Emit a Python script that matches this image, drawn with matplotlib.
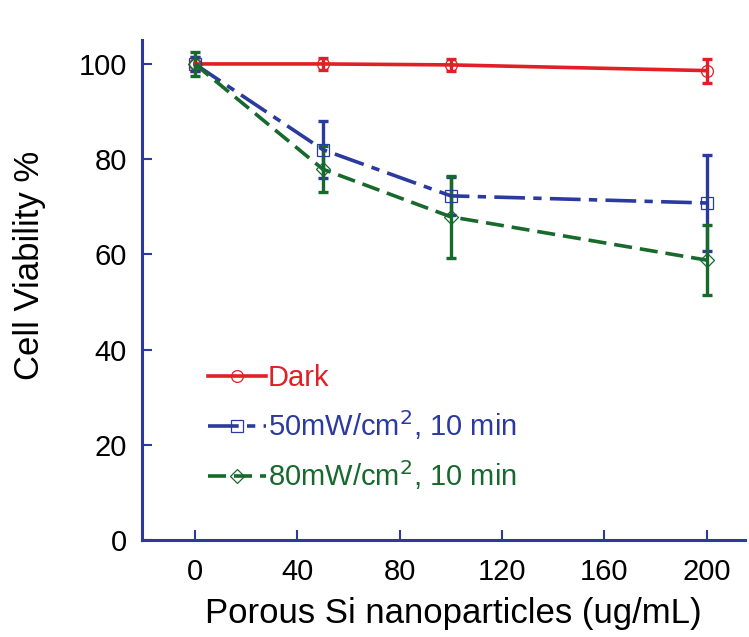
import matplotlib
matplotlib.use("Agg")
import matplotlib.pyplot as plt

plt.rcParams['font.family'] = ['Liberation Sans', 'DejaVu Sans']

conc = [0, 50, 100, 200]
dark = [100.0, 100.0, 99.8, 98.6]
dark_err = [1.5, 1.2, 1.3, 2.5]
p50 = [100.0, 82.0, 72.3, 70.8]
p50_err = [1.5, 6.0, 4.0, 10.1]
p80 = [100.0, 77.9, 67.9, 58.8]
p80_err = [2.5, 4.8, 8.6, 7.3]

labels = ['Dark', r'50mW/cm$^2$, 10 min', r'80mW/cm$^2$, 10 min']
xticks = [0, 40, 80, 120, 160, 200]
yticks = [0, 20, 40, 60, 80, 100]

RED = '#e02026'
BLUE = '#2b3a9e'
GREEN = '#17692c'
AXIS = '#2b3a9e'

fig = plt.figure(figsize=(7.49, 6.37), dpi=100)
ax = fig.add_axes([0.19, 0.152, 0.805, 0.785])

series = [
    (dark, dark_err, RED, '-', 'o', labels[0]),
    (p50, p50_err, BLUE, (0, (8.5, 2.3, 2.3, 2.3)), 's', labels[1]),
    (p80, p80_err, GREEN, (0, (5, 2.2)), 'D', labels[2]),
]
handles = []
for vals, err, col, ls, mk, lab in series:
    ax.errorbar(conc, vals, yerr=err, fmt='none', ecolor=col, elinewidth=2.4,
                capsize=3.8, capthick=2.4, zorder=3)
    ms = 7 if mk == 'D' else 8.5
    h, = ax.plot(conc, vals, color=col, linestyle=ls, linewidth=2.6,
                 marker=mk, markersize=ms, markerfacecolor='none',
                 markeredgewidth=0.9, label=lab, zorder=4)
    handles.append(h)

ax.set_xlim(-20.5, 215)
ax.set_ylim(0, 105)
ax.set_xticks(xticks)
ax.set_yticks(yticks)
ax.tick_params(axis='both', direction='in', length=7, width=1.5, color=AXIS,
               labelsize=21, labelcolor='black')
ax.tick_params(axis='x', pad=13)
ax.tick_params(axis='y', pad=11)
for side in ('top', 'right'):
    ax.spines[side].set_visible(False)
for side in ('left', 'bottom'):
    ax.spines[side].set_color(AXIS)
    ax.spines[side].set_linewidth(2.2)

ax.set_xlabel('Porous Si nanoparticles (ug/mL)', fontsize=25)
ax.xaxis.set_label_coords(0.515, -0.113)
ax.set_ylabel('Cell Viability %', fontsize=25)
ax.yaxis.set_label_coords(-0.16, 0.55)

leg = ax.legend(handles=handles, loc='upper left', bbox_to_anchor=(0.065, 0.405),
                frameon=False, fontsize=21, handlelength=2.0, handletextpad=0.05,
                labelspacing=0.55, labelcolor='linecolor')

fig.savefig('out.png', dpi=100)
